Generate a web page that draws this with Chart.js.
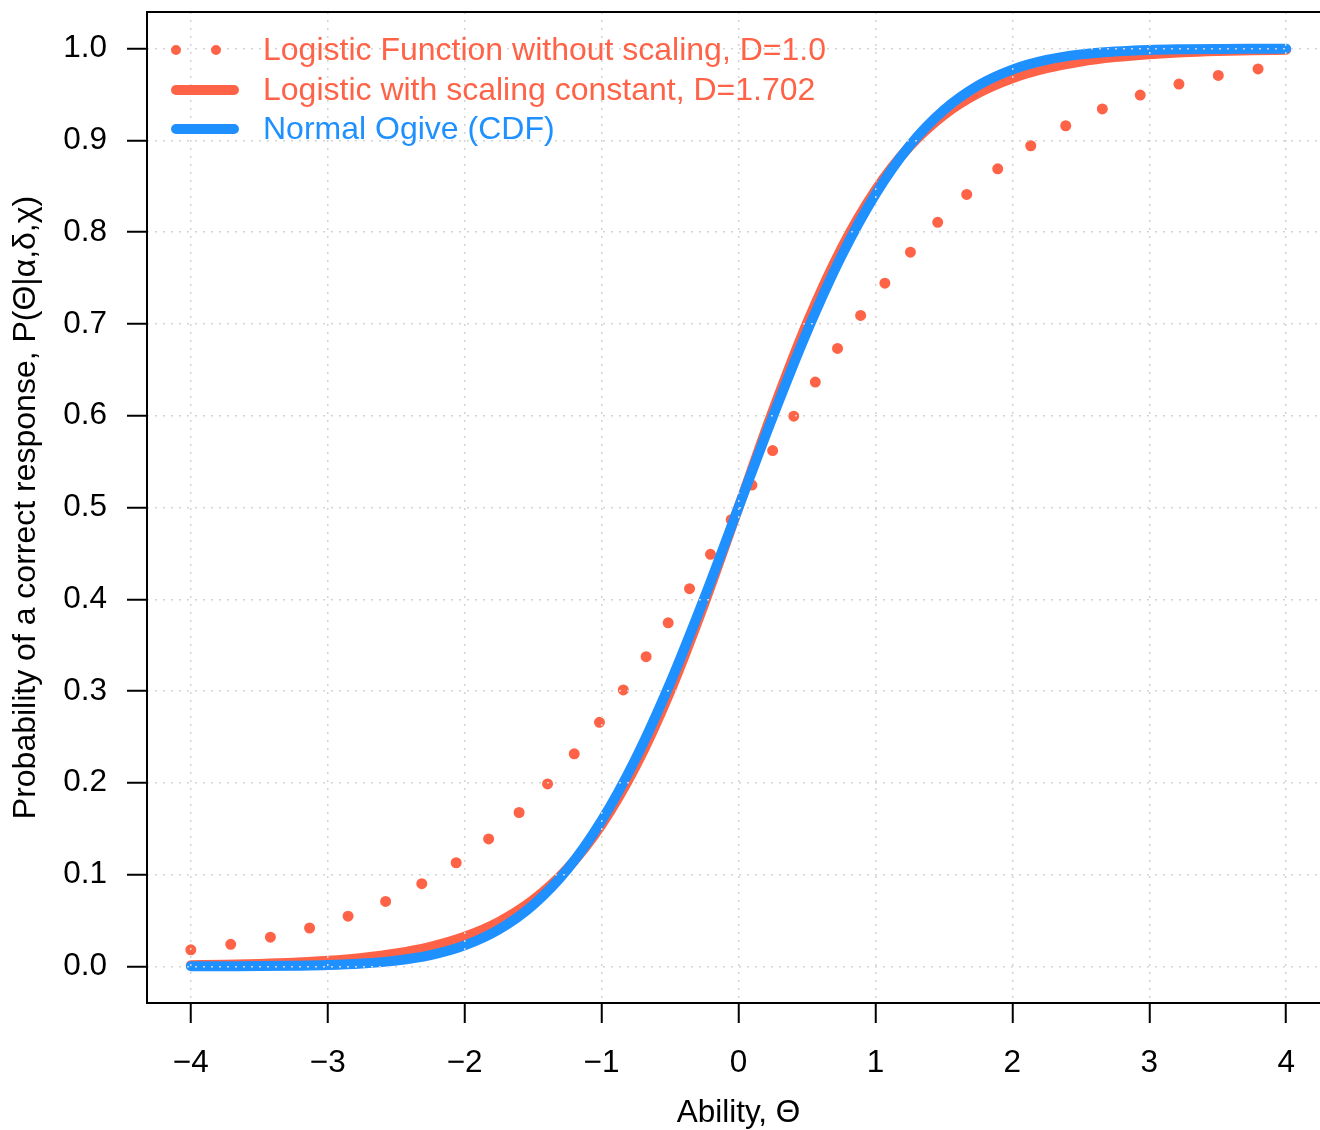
<!DOCTYPE html>
<html>
<head>
<meta charset="utf-8">
<script src="https://cdn.jsdelivr.net/npm/chart.js@4"></script>
<style>
  html, body { margin: 0; padding: 0; background: #fff; overflow: hidden; width: 1320px; height: 1130px; }
  canvas { display: block; }
</style>
</head>
<body>
<canvas id="irtChart" width="1340" height="1130"></canvas>
<script>
// ability values (x)
var theta = [-4, -3.75, -3.5, -3.25, -3, -2.75, -2.5, -2.25, -2, -1.75, -1.5, -1.25, -1, -0.75, -0.5, -0.25,
             0, 0.25, 0.5, 0.75, 1, 1.25, 1.5, 1.75, 2, 2.25, 2.5, 2.75, 3, 3.25, 3.5, 3.75, 4];

// logistic without scaling, D=1.0
var pUnscaled = [0.0180, 0.0230, 0.0293, 0.0373, 0.0474, 0.0601, 0.0759, 0.0953, 0.1192, 0.1480, 0.1824, 0.2227,
                 0.2689, 0.3208, 0.3775, 0.4378, 0.5000, 0.5622, 0.6225, 0.6792, 0.7311, 0.7773, 0.8176, 0.8520,
                 0.8808, 0.9047, 0.9241, 0.9399, 0.9526, 0.9627, 0.9707, 0.9770, 0.9820];

// logistic with scaling constant, D=1.702
var pScaled = [0.0011, 0.0017, 0.0026, 0.0039, 0.0060, 0.0092, 0.0140, 0.0213, 0.0322, 0.0484, 0.0722, 0.1064,
               0.1542, 0.2182, 0.2992, 0.3952, 0.5000, 0.6048, 0.7008, 0.7818, 0.8458, 0.8936, 0.9278, 0.9516,
               0.9678, 0.9787, 0.9860, 0.9908, 0.9940, 0.9961, 0.9974, 0.9983, 0.9989];

// normal ogive
var pNormal = [0.0000, 0.0001, 0.0002, 0.0006, 0.0013, 0.0030, 0.0062, 0.0122, 0.0228, 0.0401, 0.0668, 0.1056,
               0.1587, 0.2266, 0.3085, 0.4013, 0.5000, 0.5987, 0.6915, 0.7734, 0.8413, 0.8944, 0.9332, 0.9599,
               0.9772, 0.9878, 0.9938, 0.9970, 0.9987, 0.9994, 0.9998, 0.9999, 1.0000];

var xTicks = [-4, -3, -2, -1, 0, 1, 2, 3, 4];
var yTicks = [0, 0.1, 0.2, 0.3, 0.4, 0.5, 0.6, 0.7, 0.8, 0.9, 1.0];

var legendLabels = ['Logistic Function without scaling, D=1.0',
                    'Logistic with scaling constant, D=1.702',
                    'Normal Ogive (CDF)'];

var RED = '#FF6347';
var BLUE = '#1E90FF';
var FONT = '"Liberation Sans", Arial, Helvetica, sans-serif';

function toXY(ys) {
    return theta.map(function(t, i) { return {x: t, y: ys[i]}; });
}

// box round the plot + legend (R style, no frame)
var boxAndLegend = {
    id: 'boxAndLegend',
    afterDraw: function(chart) {
        var ctx = chart.ctx;
        var a = chart.chartArea;
        ctx.save();
        ctx.strokeStyle = '#000';
        ctx.lineWidth = 2;
        ctx.strokeRect(a.left, a.top, a.right - a.left, a.bottom - a.top);

        var rows = [50, 90, 129];
        var colors = [RED, RED, BLUE];
        ctx.lineCap = 'round';
        ctx.lineWidth = 10;
        for (var i = 0; i < 3; i++) {
            ctx.strokeStyle = colors[i];
            ctx.setLineDash(i === 0 ? [0, 40] : []);
            ctx.beginPath();
            ctx.moveTo(176, rows[i]);
            ctx.lineTo(i === 0 ? 240 : 234, rows[i]);
            ctx.stroke();
        }
        ctx.setLineDash([]);
        ctx.font = '32px ' + FONT;
        ctx.textBaseline = 'middle';
        ctx.textAlign = 'left';
        for (var j = 0; j < 3; j++) {
            ctx.fillStyle = colors[j];
            ctx.fillText(legendLabels[j], 263, rows[j] + 1);
        }
        ctx.restore();
    }
};

const ctx = document.getElementById('irtChart').getContext('2d');
const irtChart = new Chart(ctx, {
    type: 'line',
    data: {
        datasets: [{
            label: legendLabels[2],
            data: toXY(pNormal),
            borderColor: BLUE,
            borderWidth: 10,
            borderCapStyle: 'round',
            borderJoinStyle: 'round',
            pointRadius: 0,
            cubicInterpolationMode: 'monotone',
            order: 0
        }, {
            label: legendLabels[1],
            data: toXY(pScaled),
            borderColor: RED,
            borderWidth: 10,
            borderCapStyle: 'round',
            borderJoinStyle: 'round',
            pointRadius: 0,
            cubicInterpolationMode: 'monotone',
            order: 1
        }, {
            label: legendLabels[0],
            data: toXY(pUnscaled),
            borderColor: RED,
            borderWidth: 11,
            borderDash: [0, 40.3],
            borderCapStyle: 'round',
            pointRadius: 0,
            cubicInterpolationMode: 'monotone',
            order: 2
        }]
    },
    options: {
        responsive: false,
        animation: false,
        devicePixelRatio: 1,
        layout: { padding: { left: 0, top: 12, right: 10, bottom: 0 } },
        plugins: { legend: { display: false }, tooltip: { enabled: false } },
        scales: {
            x: {
                type: 'linear',
                min: -4.32,
                max: 4.32,
                afterBuildTicks: function(s) { s.ticks = xTicks.map(function(v) { return {value: v}; }); },
                afterFit: function(s) { s.height = 127; s.paddingLeft = 0; s.paddingRight = 0; },
                grid: { z: 1, color: '#D3D3D3', lineWidth: 1.5, tickLength: 20, tickColor: '#000', tickWidth: 2, tickBorderDash: [] },
                border: { display: false, dash: [2, 6] },
                ticks: {
                    color: '#000',
                    padding: 21,
                    maxRotation: 0,
                    font: { family: FONT, size: 31.5 },
                    callback: function(v) { return String(v).replace('-', '\u2212'); }
                },
                title: {
                    display: true,
                    text: 'Ability, \u0398',
                    color: '#000',
                    font: { family: FONT, size: 31.5, lineHeight: 1.05 },
                    padding: { top: 0, bottom: 0 }
                }
            },
            y: {
                type: 'linear',
                min: -0.04,
                max: 1.04,
                afterBuildTicks: function(s) { s.ticks = yTicks.map(function(v) { return {value: v}; }); },
                afterFit: function(s) { s.width = 147; s.paddingTop = 0; s.paddingBottom = 0; },
                grid: { z: 1, color: '#D3D3D3', lineWidth: 1.5, tickLength: 20, tickColor: '#000', tickWidth: 2, tickBorderDash: [] },
                border: { display: false, dash: [2, 6] },
                ticks: {
                    color: '#000',
                    padding: 20,
                    font: { family: FONT, size: 31.5 },
                    callback: function(v) { return v.toFixed(1); }
                },
                title: {
                    display: true,
                    text: 'Probability of a correct response, P(\u0398|\u03b1,\u03b4,\u03c7)',
                    color: '#000',
                    font: { family: FONT, size: 32 },
                    padding: { top: 7, bottom: 0 }
                }
            }
        }
    },
    plugins: [boxAndLegend]
});
</script>
</body>
</html>
